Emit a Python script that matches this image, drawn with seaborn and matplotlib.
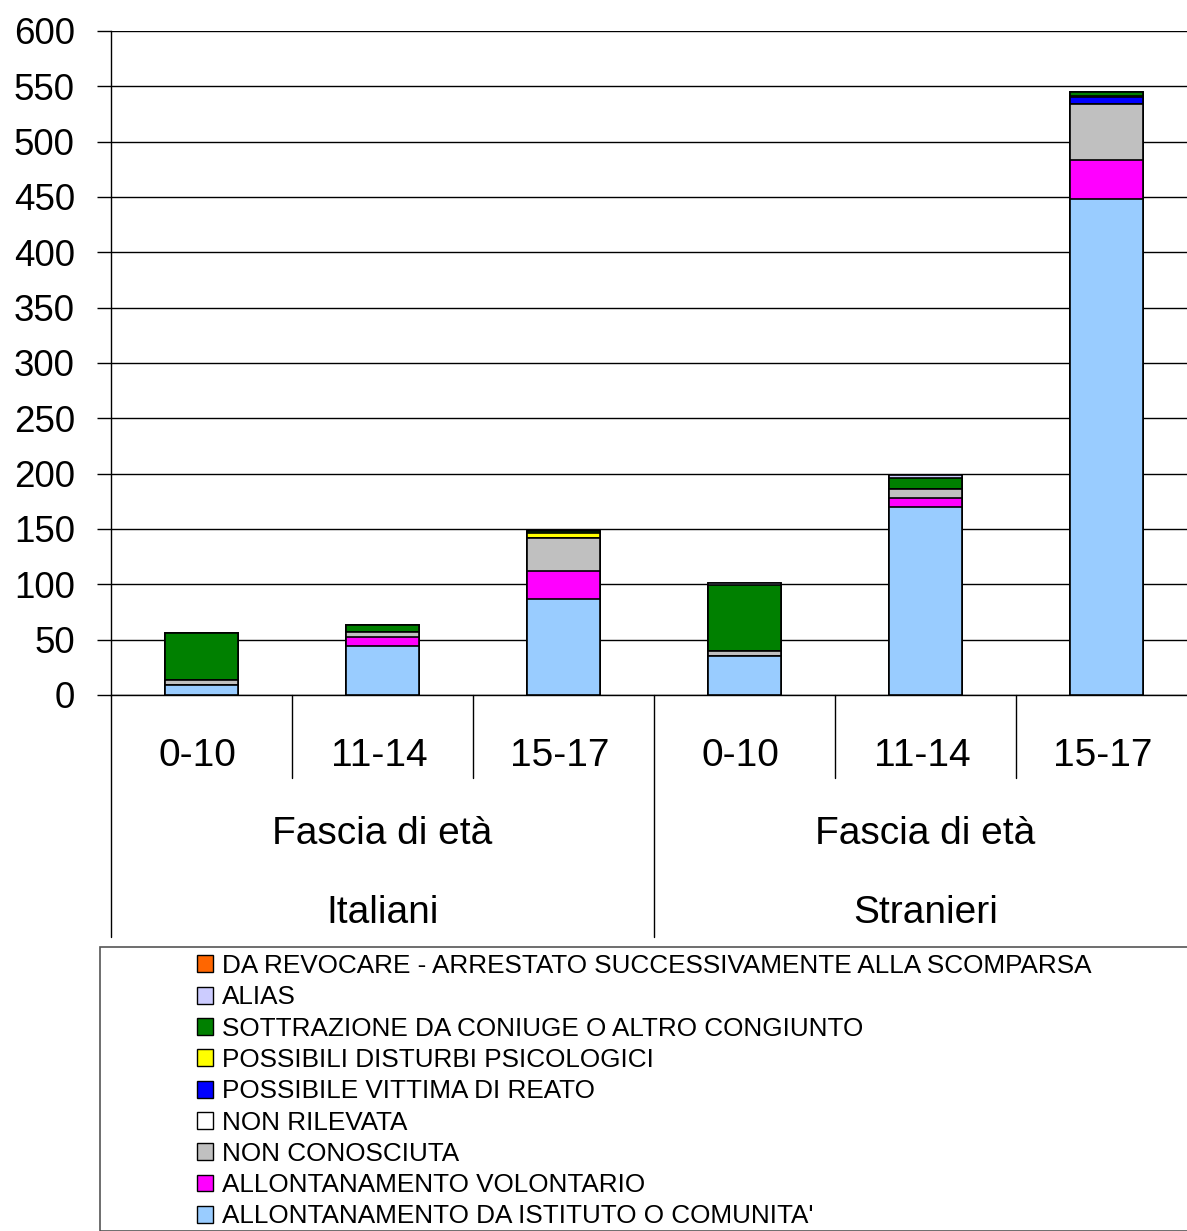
import matplotlib
matplotlib.use("Agg")
import matplotlib.pyplot as plt
import seaborn as sns
import numpy as np
import pandas as pd
from matplotlib.patches import Patch, Rectangle

groups = ["Italiani", "Stranieri"]
ages = ["0-10", "11-14", "15-17"]
group_title = "Fascia di età"
categories = ["Italiani 0-10", "Italiani 11-14", "Italiani 15-17",
              "Stranieri 0-10", "Stranieri 11-14", "Stranieri 15-17"]

# stack order bottom -> top
series_names = [
    "ALLONTANAMENTO DA ISTITUTO O COMUNITA'",
    "ALLONTANAMENTO VOLONTARIO",
    "NON CONOSCIUTA",
    "NON RILEVATA",
    "POSSIBILE VITTIMA DI REATO",
    "POSSIBILI DISTURBI PSICOLOGICI",
    "SOTTRAZIONE DA CONIUGE O ALTRO CONGIUNTO",
    "ALIAS",
    "DA REVOCARE - ARRESTATO SUCCESSIVAMENTE ALLA SCOMPARSA",
]
istituto    = [9, 44, 87, 35, 170, 448]
volontario  = [0, 8, 25, 0, 8, 35]
non_conosc  = [5, 5, 30, 5, 8, 51]
non_rilev   = [0, 0, 0, 0, 0, 0]
vittima     = [0, 0, 0, 0, 0, 6]
disturbi    = [0, 0, 4, 0, 0, 1]
sottrazione = [42, 6, 2, 59, 10, 4]
alias       = [0, 0, 0, 2, 3, 0]
revocare    = [0, 0, 0, 0, 0, 0]
series_values = [istituto, volontario, non_conosc, non_rilev, vittima,
                 disturbi, sottrazione, alias, revocare]
colors = ["#99CCFF", "#FF00FF", "#C0C0C0", "#FFFFFF", "#0000FF",
          "#FFFF00", "#008000", "#CCCCFF", "#FF6600"]
yticks = list(range(0, 601, 50))

sns.set_style("white")
plt.rcParams['font.family'] = ['Liberation Sans', 'DejaVu Sans']
plt.rcParams['text.color'] = 'black'
plt.rcParams['xtick.color'] = 'black'
plt.rcParams['ytick.color'] = 'black'
plt.rcParams['axes.labelcolor'] = 'black'

W, H = 1187, 1231
fig = plt.figure(figsize=(W / 100, H / 100), dpi=100)
ax_left, ax_bottom_px, ax_top_px = 111, 695, 31
ax_w = 6 * 181
ax = fig.add_axes([ax_left / W, 1 - ax_bottom_px / H, ax_w / W, (ax_bottom_px - ax_top_px) / H])

cum = np.cumsum(np.array(series_values, dtype=float), axis=0)
for i in range(len(series_names) - 1, -1, -1):
    df = pd.DataFrame({"cat": categories, "val": cum[i]})
    sns.barplot(data=df, x="cat", y="val", order=categories, color=colors[i],
                width=0.4, edgecolor="black", linewidth=1.2, ax=ax,
                saturation=1, zorder=3)

ax.set_ylim(0, 600)
ax.set_xlim(-0.5, 5.5)
ax.set_yticks(yticks)
ax.set_yticklabels([str(v) for v in yticks], fontsize=26.5)
ax.set_xticks([])
ax.set_xlabel("")
ax.set_ylabel("")
ax.yaxis.grid(True, color="black", linewidth=1)
ax.set_axisbelow(True)
ax.tick_params(axis="y", length=10, width=1, color="black", left=True, pad=16,
               labelcolor="black")
for s in ["top", "right"]:
    ax.spines[s].set_visible(False)
ax.spines["left"].set_color("black")
ax.spines["bottom"].set_color("black")
ax.spines["left"].set_linewidth(1)
ax.spines["bottom"].set_linewidth(1)

tr = ax.get_xaxis_transform()
axh = ax_bottom_px - ax_top_px
short = -(778 - 695) / axh
long_ = -(937 - 695) / axh
for b in [0.5, 1.5, 3.5, 4.5]:
    ax.plot([b, b], [0, short], color="black", lw=1, transform=tr, clip_on=False)
for b in [-0.5, 2.5]:
    ax.plot([b, b], [0, long_], color="black", lw=1, transform=tr, clip_on=False)
for i, c in enumerate(categories):
    ax.text(i - 0.02, -(756 - 695) / axh, ages[i % 3], transform=tr, ha="center",
            va="center", fontsize=28, color="black")
for g, gname in enumerate(groups):
    ax.text(3 * g + 1, -(834 - 695) / axh, group_title, transform=tr,
            ha="center", va="center", fontsize=28, color="black")
    ax.text(3 * g + 1, -(913 - 695) / axh, gname, transform=tr,
            ha="center", va="center", fontsize=28, color="black")

# legend frame
fig.patches.append(Rectangle((100 / W, 0), (W - 100) / W + 0.01, (H - 947) / H,
                             transform=fig.transFigure, fill=False,
                             edgecolor="#555555", linewidth=1.2))
handles = [Patch(facecolor=colors[i], edgecolor="black", label=series_names[i])
           for i in range(len(series_names) - 1, -1, -1)]
leg = fig.legend(handles=handles, loc="upper left",
                 bbox_to_anchor=(197 / W, 1 - 954 / H), frameon=False,
                 fontsize=18.8, handlelength=0.62, handleheight=0.62,
                 handletextpad=0.34, labelspacing=0.28, borderpad=0,
                 borderaxespad=0)
for t in leg.get_texts():
    t.set_color("black")

fig.savefig("out.png", dpi=100)
